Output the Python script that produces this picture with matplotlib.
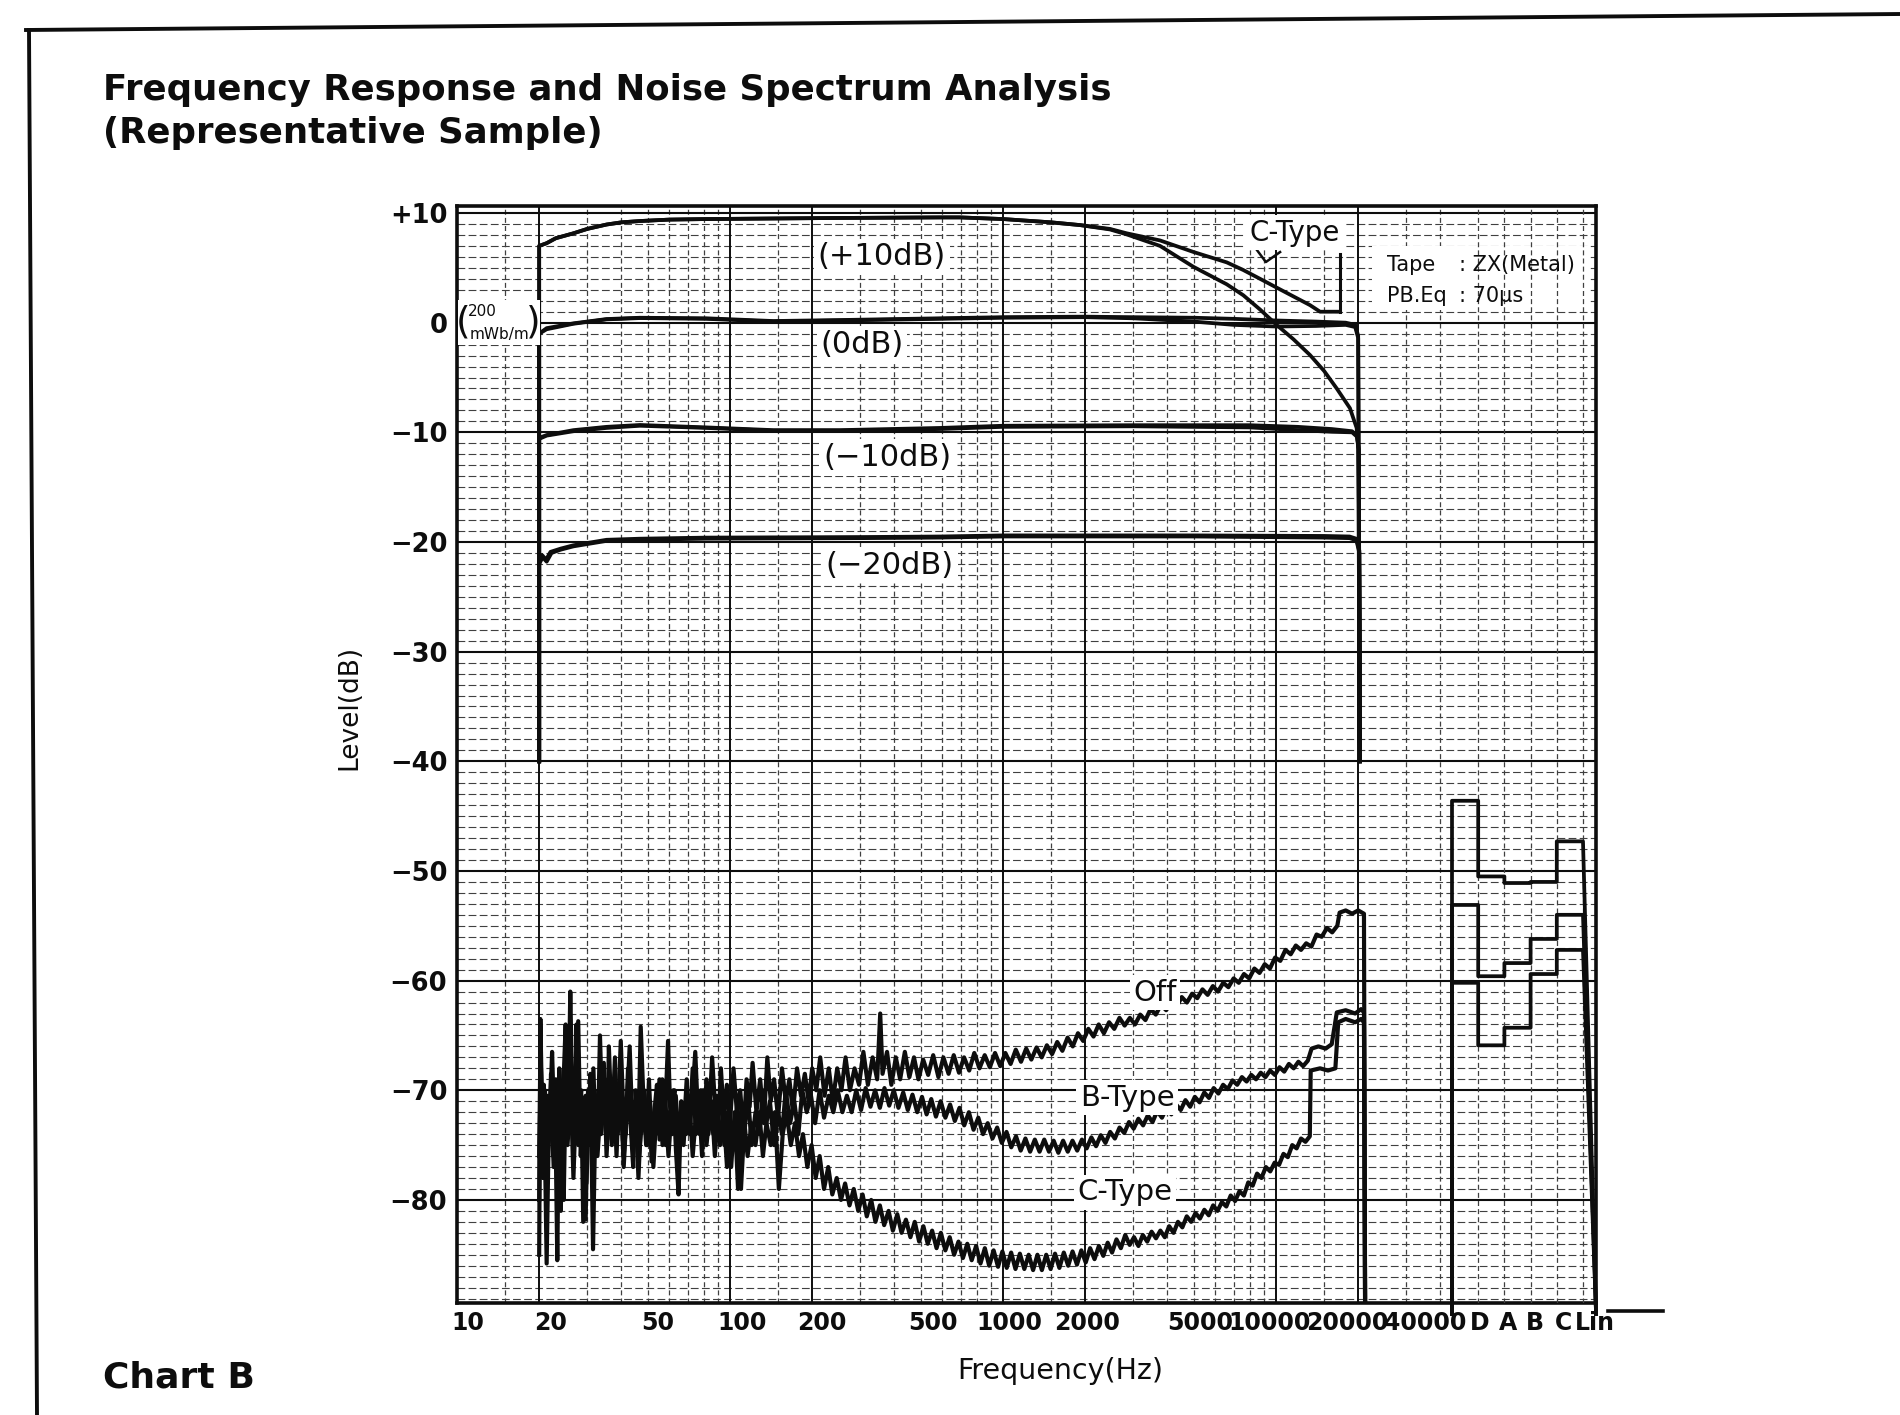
import numpy as np
import matplotlib
matplotlib.use("Agg")
import matplotlib.pyplot as plt
import matplotlib.transforms as mtrans
from matplotlib.lines import Line2D
from matplotlib.patches import Rectangle

plt.rcParams['font.family'] = ['DejaVu Sans']

# ------------------------------------------------------------------ data
freq_ticks = [10, 20, 50, 100, 200, 500, 1000, 2000, 5000, 10000, 20000, 40000]
freq_tick_labels = ["10", "20", "50", "100", "200", "500", "1000", "2000",
                    "5000", "10000", "20000", "40000"]
level_ticks = [10, 0, -10, -20, -30, -40, -50, -60, -70, -80]
level_tick_labels = ["+10", "0", "\u221210", "\u221220", "\u221230", "\u221240",
                     "\u221250", "\u221260", "\u221270", "\u221280"]
weight_labels = ["D", "A", "B", "C", "Lin"]

# frequency response (Hz, dB)
resp_p10_off = [(20, -40), (20, 7.0), (21.3, 7.25), (23, 7.7), (26.7, 8.15), (30, 8.55),
                (35.3, 8.95), (40, 9.15), (46.8, 9.27), (60, 9.4), (82, 9.45), (144, 9.5),
                (253, 9.55), (588, 9.6), (696, 9.6), (1000, 9.45), (1500, 9.15),
                (1914, 8.9), (2466, 8.55), (2838, 8.15), (3760, 7.5), (4980, 6.45),
                (6600, 5.5), (7590, 4.8), (8740, 4.0), (10050, 3.2), (11570, 2.4),
                (13320, 1.6), (14500, 1.0), (17100, 1.0)]
resp_p10_ctype = [(20, -40), (20, 7.0), (21.3, 7.25), (23, 7.7), (26.7, 8.15), (30, 8.55),
                  (35.3, 8.95), (40, 9.15), (46.8, 9.27), (60, 9.4), (82, 9.45), (144, 9.5),
                  (253, 9.55), (588, 9.6), (696, 9.6), (1000, 9.45), (1500, 9.15),
                  (1914, 8.9), (2466, 8.5), (2838, 8.05), (3760, 7.0), (4980, 5.1),
                  (6600, 3.5), (7590, 2.5), (8740, 1.2), (10050, -0.2), (11570, -1.5),
                  (13320, -2.95), (15000, -4.4), (16690, -6.0), (18660, -7.8),
                  (19740, -9.6), (20000, -11.5), (20300, -40)]
resp_0_off = [(20, -40), (20, -1.0), (21.3, -0.5), (26.7, -0.06), (35.3, 0.33), (46.8, 0.45),
              (82, 0.4), (144, 0.15), (253, 0.24), (588, 0.4), (1000, 0.5), (2000, 0.55),
              (3000, 0.5), (5000, 0.45), (7000, 0.35), (10000, 0.2), (14000, 0.1),
              (18000, 0.0), (19500, -0.2), (20000, -1.2), (20300, -40)]
resp_0_ctype = [(20, -40), (20, -1.0), (21.3, -0.6), (26.7, -0.1), (35.3, 0.3), (46.8, 0.42),
                (82, 0.35), (144, 0.1), (253, 0.2), (588, 0.35), (1000, 0.45), (2000, 0.5),
                (3000, 0.4), (5000, 0.1), (7000, -0.2), (10000, -0.35), (14000, -0.3),
                (18000, -0.2), (19500, -0.4), (20000, -1.4), (20300, -40)]
resp_m10_off = [(20, -40), (20, -10.5), (21.3, -10.25), (26.7, -9.8), (35.3, -9.5),
                (46.8, -9.33), (82, -9.55), (144, -9.8), (253, -9.8), (588, -9.6),
                (1000, -9.4), (3000, -9.35), (8000, -9.35), (12000, -9.5), (16000, -9.7),
                (19000, -9.9), (19800, -10.3), (20100, -11.5), (20300, -40)]
resp_m10_ctype = [(20, -40), (20, -10.6), (21.3, -10.3), (26.7, -9.9), (35.3, -9.6),
                  (46.8, -9.4), (82, -9.6), (144, -9.85), (253, -9.85), (588, -9.7),
                  (1000, -9.5), (3000, -9.45), (8000, -9.55), (12000, -9.8), (16000, -9.95),
                  (19000, -10.0), (19800, -10.4), (20100, -11.6), (20300, -40)]
resp_m20_off = [(20, -40), (20, -21.8), (20.5, -21.2), (21.2, -21.6), (22, -20.9),
                (24, -20.6), (26.7, -20.3), (35.3, -19.8), (46.8, -19.7), (82, -19.6),
                (300, -19.55), (588, -19.5), (1000, -19.4), (5000, -19.4), (15000, -19.45),
                (18600, -19.5), (19700, -19.7), (20200, -20.8), (20300, -40)]
resp_m20_ctype = [(20, -40), (20, -22.0), (20.6, -21.4), (21.3, -21.8), (22.2, -21.0),
                  (24, -20.7), (26.7, -20.4), (35.3, -19.9), (46.8, -19.8), (82, -19.7),
                  (300, -19.65), (588, -19.6), (1000, -19.5), (5000, -19.5), (15000, -19.6),
                  (18600, -19.65), (19700, -19.85), (20200, -21.0), (20300, -40)]

# noise spectra (Hz, dB)
noise_off = [(20.0, -85.0), (20.2, -63.5), (20.5, -72.0), (20.8, -69.5), (21.1, -75.5), (21.4, -70.5),
             (21.8, -73.5), (22.1, -68.5), (22.5, -76.0), (22.9, -71.5), (23.3, -85.5), (23.7, -68.0),
             (24.1, -74.0), (24.6, -80.0), (25.1, -67.0), (25.6, -71.5), (26.0, -61.0), (26.5, -72.0),
             (27.0, -74.5), (27.4, -64.0), (27.9, -72.5), (28.5, -70.0), (29.0, -82.0), (29.6, -70.5),
             (30.2, -75.0), (30.8, -68.5), (31.5, -84.5), (32.2, -71.0), (32.8, -74.0), (33.4, -65.0),
             (34.1, -73.0), (34.8, -69.0), (35.5, -74.5), (36.0, -66.0), (36.8, -72.5), (37.6, -69.5),
             (38.4, -76.0), (39.2, -70.0), (39.8, -65.5), (40.6, -71.5), (41.5, -74.0), (42.3, -68.0),
             (43.2, -73.0), (44.2, -77.0), (45.1, -70.0), (46.2, -73.5), (47.1, -64.2), (48.2, -71.0),
             (49.3, -75.0), (50.5, -69.0), (51.6, -76.5), (52.8, -72.0), (54.0, -69.5), (55.2, -74.5),
             (56.5, -69.0), (57.8, -72.5), (59.3, -65.5), (60.6, -73.0), (62.0, -70.0), (63.4, -75.5),
             (64.8, -79.5), (66.3, -71.0), (67.8, -73.5), (69.4, -69.0), (71.0, -74.0), (72.8, -70.5),
             (74.6, -66.5), (76.4, -72.5), (78.2, -70.0), (80.0, -74.5), (82.0, -69.0), (84.0, -72.0),
             (86.0, -67.0), (88.2, -71.5), (90.4, -74.0), (92.6, -68.0), (95.0, -72.5), (97.4, -69.5),
             (100, -73.0), (103, -68.0), (106, -72.0), (109, -70.0), (112, -74.0), (115, -69.0),
             (118, -71.5), (121, -67.5), (125, -72.0), (129, -69.0), (133, -73.0), (137, -67.0),
             (141, -71.0), (145, -69.0), (150, -72.5), (155, -68.0), (160, -71.0), (165, -69.0),
             (170, -72.0), (176, -68.0), (182, -70.5), (188, -68.5), (194, -71.0), (200, -68.0),
             (207, -70.0), (214, -67.0), (222, -70.5), (230, -68.0), (238, -71.0), (247, -68.0),
             (256, -70.0), (265, -67.0), (275, -70.0), (286, -68.0), (297, -69.5), (308, -66.5),
             (320, -69.5), (333, -67.0), (346, -69.0), (355, -63.0), (362, -68.5), (376, -66.5),
             (390, -69.5), (405, -67.0), (420, -69.0), (437, -66.5), (454, -68.8), (472, -67.0),
             (490, -69.0), (510, -67.2), (532, -68.6), (555, -66.8), (580, -68.8), (605, -67.0),
             (632, -68.5), (660, -66.8), (690, -68.4), (720, -67.0), (752, -68.2), (785, -66.6),
             (820, -68.0), (857, -66.8), (895, -67.9), (935, -66.6), (977, -67.8), (1020, -66.6),
             (1066, -67.6), (1114, -66.3), (1164, -67.4), (1216, -66.2), (1270, -67.2), (1327, -66.1),
             (1386, -67.0), (1448, -65.9), (1513, -66.7), (1580, -65.6), (1650, -66.4), (1724, -65.2),
             (1801, -66.0), (1882, -64.8), (1966, -65.5), (2054, -64.4), (2146, -65.1), (2242, -64.0),
             (2342, -64.8), (2447, -63.8), (2556, -64.4), (2671, -63.4), (2790, -64.1), (2915, -63.4),
             (3045, -64.0), (3181, -63.1), (3324, -63.6), (3472, -62.6), (3628, -63.1), (3790, -62.2),
             (3960, -62.7), (4137, -61.8), (4322, -62.4), (4515, -61.5), (4717, -62.0), (4928, -61.2),
             (5148, -61.6), (5379, -60.8), (5619, -61.3), (5871, -60.5), (6133, -61.0), (6408, -60.2),
             (6694, -60.6), (6994, -59.8), (7306, -60.2), (7633, -59.4), (7975, -59.8), (8331, -58.9),
             (8704, -59.3), (9093, -58.5), (9500, -58.9), (9925, -57.9), (10370, -58.2), (10830, -57.2),
             (11320, -57.6), (11820, -56.8), (12350, -57.2), (12900, -56.6), (13480, -56.9),
             (14080, -55.8), (14710, -56.0), (15370, -55.2), (16060, -55.6), (16770, -55.0),
             (17100, -53.8), (18000, -53.6), (19000, -53.9), (20000, -53.6), (21000, -53.9),
             (21200, -89.5)]

noise_btype = [(20.0, -76.0), (20.3, -68.0), (20.6, -78.0), (20.9, -72.0), (21.3, -85.8), (21.7, -73.0),
               (22.1, -70.0), (22.6, -77.0), (23.0, -69.0), (23.5, -74.0), (24.0, -81.0), (24.5, -70.0),
               (25.0, -64.0), (25.5, -73.0), (26.1, -70.0), (26.7, -78.0), (27.2, -72.0), (27.8, -63.7),
               (28.4, -76.0), (29.0, -71.0), (29.6, -81.8), (30.2, -70.0), (30.9, -74.0), (31.6, -68.0),
               (32.3, -76.0), (33.0, -70.0), (33.7, -74.0), (34.5, -67.5), (35.3, -76.0), (36.1, -71.0),
               (37.0, -73.0), (37.9, -67.0), (38.8, -74.0), (39.8, -70.0), (40.8, -77.0), (41.8, -72.0),
               (42.9, -66.0), (44.0, -74.0), (45.0, -71.0), (46.2, -78.0), (47.3, -72.0), (48.5, -70.0),
               (49.7, -75.0), (51.0, -71.0), (52.4, -77.0), (53.8, -72.0), (55.2, -69.0), (56.6, -75.0),
               (58.0, -71.0), (59.5, -76.0), (61.0, -72.0), (62.6, -70.0), (64.2, -76.0), (65.9, -72.0),
               (67.6, -75.0), (69.4, -70.0), (71.2, -73.0), (73.0, -68.0), (75.0, -74.0), (77.0, -71.0),
               (79.0, -76.0), (81.2, -70.0), (83.4, -74.0), (85.6, -71.0), (88.0, -76.0), (90.4, -72.0),
               (92.8, -70.0), (95.3, -75.0), (98.0, -72.0), (101, -77.0), (104, -72.0), (107, -79.0),
               (110, -72.0), (113, -74.0), (116, -70.0), (120, -75.0), (124, -72.0), (128, -74.0),
               (132, -70.0), (136, -73.0), (140, -71.0), (145, -75.0), (150, -72.0), (155, -74.0),
               (160, -70.0), (166, -73.0), (172, -71.0), (178, -74.0), (184, -70.0), (191, -72.0),
               (198, -70.5), (205, -73.0), (213, -70.0), (221, -72.5), (230, -70.5), (239, -72.0),
               (248, -70.0), (258, -72.0), (268, -70.5), (279, -72.0), (290, -70.0), (302, -71.8),
               (314, -69.8), (327, -71.5), (340, -70.0), (354, -71.6), (368, -69.8), (383, -71.4),
               (398, -70.0), (414, -71.6), (431, -70.2), (448, -71.8), (466, -70.4), (485, -72.0),
               (505, -70.6), (525, -72.2), (546, -70.8), (568, -72.4), (591, -71.0), (615, -72.5),
               (640, -71.3), (666, -72.8), (693, -71.6), (721, -73.2), (750, -72.0), (780, -73.6),
               (812, -72.5), (845, -74.0), (879, -73.0), (915, -74.4), (952, -73.4), (990, -74.8),
               (1030, -73.8), (1072, -75.2), (1116, -74.2), (1161, -75.5), (1208, -74.4), (1257, -75.6),
               (1308, -74.5), (1361, -75.6), (1416, -74.5), (1474, -75.6), (1533, -74.6), (1595, -75.7),
               (1660, -74.6), (1727, -75.6), (1797, -74.6), (1870, -75.5), (1946, -74.5), (2025, -75.3),
               (2107, -74.3), (2192, -75.1), (2281, -74.1), (2373, -74.8), (2469, -73.8), (2569, -74.4),
               (2673, -73.4), (2781, -73.9), (2894, -72.9), (3011, -73.5), (3133, -72.6), (3260, -73.2),
               (3392, -72.3), (3529, -72.9), (3672, -71.9), (3821, -72.5), (3975, -71.6), (4136, -72.2),
               (4304, -71.3), (4478, -71.8), (4659, -70.9), (4848, -71.5), (5044, -70.6), (5249, -71.1),
               (5461, -70.2), (5682, -70.7), (5912, -69.8), (6151, -70.3), (6400, -69.5), (6659, -69.9),
               (6929, -69.1), (7209, -69.5), (7501, -68.8), (7804, -69.2), (8120, -68.6), (8449, -69.0),
               (8791, -68.4), (9147, -68.8), (9517, -68.2), (9902, -68.6), (10300, -67.9), (10720, -68.3),
               (11150, -67.6), (11610, -68.0), (12080, -67.4), (12570, -67.8), (13080, -67.3),
               (13500, -66.2), (14300, -66.0), (15200, -66.2), (16000, -65.8), (16700, -62.9),
               (18000, -62.7), (19500, -63.0), (20500, -62.6), (21000, -62.9), (21200, -89.5)]

noise_ctype = [(20.0, -80.0), (20.2, -66.0), (20.6, -74.5), (21.0, -70.0), (21.4, -77.5), (21.9, -72.0),
               (22.3, -66.5), (22.8, -74.5), (23.3, -70.5), (23.8, -78.0), (24.3, -72.0), (24.8, -69.0),
               (25.4, -75.0), (26.0, -71.0), (26.6, -74.0), (27.2, -68.5), (27.8, -75.0), (28.4, -71.0),
               (29.1, -73.5), (29.8, -78.5), (30.5, -71.0), (31.2, -74.0), (31.9, -70.0), (32.7, -76.0),
               (33.5, -72.0), (34.3, -70.0), (35.1, -74.0), (36.0, -71.0), (36.9, -75.0), (37.8, -69.0),
               (38.8, -73.0), (39.8, -71.0), (40.8, -76.0), (41.9, -72.0), (43.0, -70.0), (44.1, -74.0),
               (45.3, -71.0), (46.5, -76.0), (47.8, -72.0), (49.1, -74.0), (50.5, -70.0), (51.9, -75.0),
               (53.4, -72.0), (54.9, -74.0), (56.5, -70.0), (58.1, -75.0), (59.8, -72.0), (61.5, -74.0),
               (63.3, -70.5), (65.1, -75.0), (67.0, -72.0), (69.0, -74.0), (71.0, -71.0), (73.0, -76.0),
               (75.2, -72.0), (77.4, -74.0), (79.7, -70.0), (82.0, -75.0), (84.4, -72.0), (86.9, -74.0),
               (89.4, -70.5), (92.0, -75.0), (94.7, -72.0), (97.5, -77.0), (100.4, -73.0), (103.4, -75.0),
               (106.5, -71.0), (109.7, -79.0), (113, -73.0), (116, -76.0), (120, -73.0), (124, -75.0),
               (128, -72.0), (132, -76.0), (136, -73.0), (141, -75.0), (146, -72.0), (151, -79.0),
               (156, -74.0), (161, -72.0), (167, -75.0), (173, -73.0), (179, -76.0), (185, -74.0),
               (192, -77.0), (199, -75.0), (206, -78.0), (213, -76.0), (221, -79.0), (229, -77.0),
               (237, -79.5), (246, -78.0), (255, -80.0), (264, -78.5), (274, -80.5), (284, -79.0),
               (295, -81.0), (306, -79.5), (317, -81.5), (329, -80.0), (341, -82.0), (354, -80.5),
               (367, -82.3), (381, -81.0), (395, -82.8), (410, -81.3), (425, -83.0), (441, -81.8),
               (458, -83.4), (475, -82.0), (493, -83.8), (511, -82.4), (530, -84.0), (550, -82.8),
               (571, -84.4), (592, -83.0), (615, -84.6), (638, -83.4), (662, -85.0), (687, -83.8),
               (713, -85.3), (740, -84.0), (768, -85.5), (797, -84.2), (827, -85.8), (858, -84.4),
               (890, -86.0), (924, -84.6), (959, -86.1), (995, -84.7), (1032, -86.2), (1071, -84.8),
               (1111, -86.3), (1153, -84.9), (1197, -86.3), (1242, -85.0), (1289, -86.4), (1337, -85.0),
               (1388, -86.4), (1440, -85.0), (1494, -86.3), (1551, -84.9), (1609, -86.2), (1670, -84.8),
               (1733, -86.0), (1798, -84.7), (1866, -85.9), (1936, -84.6), (2009, -85.7), (2085, -84.4),
               (2164, -85.4), (2245, -84.2), (2330, -85.1), (2418, -83.9), (2509, -84.8), (2604, -83.6),
               (2702, -84.4), (2804, -83.2), (2910, -84.1), (3020, -83.4), (3134, -84.2), (3252, -83.2),
               (3375, -83.8), (3502, -82.9), (3634, -83.5), (3771, -82.8), (3914, -83.4), (4062, -82.4),
               (4215, -83.0), (4374, -82.0), (4539, -82.5), (4711, -81.5), (4889, -82.0), (5073, -81.2),
               (5265, -81.7), (5464, -80.9), (5670, -81.4), (5884, -80.5), (6106, -81.0), (6337, -80.2),
               (6576, -80.6), (6824, -79.6), (7082, -80.1), (7350, -79.2), (7627, -79.6), (7915, -78.4),
               (8214, -78.7), (8524, -77.6), (8846, -78.0), (9180, -77.0), (9527, -77.4), (9887, -76.6),
               (10260, -76.8), (10650, -75.8), (11050, -76.1), (11470, -75.0), (11900, -75.3),
               (12350, -74.4), (12820, -74.7), (13300, -74.2), (13400, -68.2), (14500, -68.0),
               (15500, -68.2), (16500, -68.0), (16900, -63.8), (18000, -63.5), (19500, -63.8),
               (20500, -63.5), (21000, -63.8), (21200, -89.5)]

# weighted noise levels (D, A, B, C, Lin), dB
weighted_off = [-43.6, -50.5, -51.1, -51.0, -47.3]
weighted_btype = [-53.1, -59.6, -58.4, -56.2, -54.0]
weighted_ctype = [-60.2, -65.9, -64.3, -59.4, -57.2]

# ------------------------------------------------------------------ layout helpers
W, H = 1900, 1415
def fx(px):
    return px / W
def fy(py):
    return 1 - py / H

INK = '#0d0d0d'
YMIN, YMAX = -89.4, 10.64
X_LEFT, X_RIGHT_PX, PX_PER_DEC = 457, 1596, 273.0

fig = plt.figure(figsize=(19, 14.15), dpi=100)
fig.patch.set_facecolor('white')

ax = fig.add_axes([fx(457), fy(1303), fx(1596) - fx(457), fy(206) - fy(1303)])
ax.set_xscale('log')
ax.set_xlim(10, 10 ** (1 + (X_RIGHT_PX - X_LEFT) / PX_PER_DEC))
ax.set_ylim(YMIN, YMAX)

# recorder-paper grid
for db in range(-89, 11):
    if db % 10 == 0:
        ax.axhline(db, color=INK, lw=1.5, zorder=0.6)
    else:
        ax.axhline(db, color='0.25', lw=0.8, ls=(0, (7, 3)), zorder=0.5)
grid_f = [m * 10 ** k for k in range(1, 5) for m in (1, 1.5, 2, 3, 4, 5, 6, 7, 8, 9)
          if m * 10 ** k <= 40000]
for f in grid_f:
    strong = f in (10, 100, 1000, 10000, 20, 200, 2000, 20000)
    ax.axvline(f, color=INK if strong else '0.25', lw=1.4 if strong else 0.9,
               ls='-' if strong else (0, (4, 2.5)), zorder=0.5)

# response curves
for curve in (resp_p10_off, resp_p10_ctype, resp_0_off, resp_0_ctype,
              resp_m10_off, resp_m10_ctype, resp_m20_off, resp_m20_ctype):
    f, lv = zip(*curve)
    ax.plot(f, lv, color=INK, lw=2.7, zorder=3, solid_joinstyle='round')

# noise curves
for curve in (noise_off, noise_btype, noise_ctype):
    f, lv = zip(*curve)
    ax.plot(f, lv, color=INK, lw=3.0, zorder=3, solid_joinstyle='round')

# leader of top "C-Type" label
ax.plot([17100, 17100], [1.0, 6.3], color=INK, lw=2.2, zorder=3)
ax.plot([8510, 9180, 10350], [6.63, 5.53, 6.44], color=INK, lw=1.8, zorder=3)

# ticks
ax.set_xticks(freq_ticks)
ax.set_xticklabels(freq_tick_labels)
ax.xaxis.set_minor_locator(matplotlib.ticker.NullLocator())
ax.set_yticks(level_ticks)
ax.set_yticklabels(level_tick_labels)
ax.tick_params(axis='x', length=0, pad=6, labelsize=17)
ax.tick_params(axis='y', length=0, pad=7, labelsize=18.5)
for lab in ax.get_xticklabels() + ax.get_yticklabels():
    lab.set_fontweight('bold')
    lab.set_color(INK)
label_nudge_px = [11, 11, 10, 12, 10, 12, 6, 2, 6, -6, -11, -15]
for lab, dx in zip(ax.get_xticklabels(), label_nudge_px):
    lab.set_transform(lab.get_transform()
                      + mtrans.ScaledTranslation(dx / 100, 0, fig.dpi_scale_trans))
for s in ax.spines.values():
    s.set_linewidth(2.6)
    s.set_color(INK)

# curve labels
lbl = dict(color=INK, ha='center', va='center', zorder=6,
           bbox=dict(boxstyle='square,pad=0.12', fc='white', ec='none'))
ax.text(360, 6.0, "(+10dB)", fontsize=22, **lbl)
ax.text(304, -1.95, "(0dB)", fontsize=22, **lbl)
ax.text(376, -12.3, "(\u221210dB)", fontsize=22, **lbl)
ax.text(385, -22.1, "(\u221220dB)", fontsize=22, **lbl)
ax.text(11740, 8.2, "C-Type", fontsize=20, **lbl)
ax.text(3606, -61.1, "Off", fontsize=21, **lbl)
ax.text(2845, -70.7, "B-Type", fontsize=21, **lbl)
ax.text(2800, -79.3, "C-Type", fontsize=21, **lbl)

# 0 dB reference note
ax.add_patch(Rectangle((fx(458), fy(345)), fx(540) - fx(458), fy(300) - fy(345),
                       transform=fig.transFigure, fc='white', ec='none', zorder=4))
fig.text(fx(463), fy(322), "(", fontsize=27, ha='center', va='center', color=INK, zorder=7)
fig.text(fx(533), fy(322), ")", fontsize=27, ha='center', va='center', color=INK, zorder=7)
fig.text(fx(482), fy(311), "200", fontsize=11, ha='center', va='center', color=INK, zorder=7)
fig.text(fx(499), fy(334), "mWb/m", fontsize=11, ha='center', va='center', color=INK, zorder=7)

# tape box
ax.add_patch(Rectangle((fx(1372), fy(310)), fx(1589) - fx(1372), fy(246) - fy(310),
                       transform=fig.transFigure, fc='white', ec='none', zorder=4))
for txt, x, y in (("Tape", 1387, 265), (": ZX(Metal)", 1459, 265),
                  ("PB.Eq", 1387, 296), (": 70\u03bcs", 1459, 296)):
    fig.text(fx(x), fy(y), txt, fontsize=15, ha='left', va='center', color=INK, zorder=7)

# weighted levels panel
axw = fig.add_axes([fx(1452), fy(1303), (146.7) / W, fy(206) - fy(1303)])
axw.set_xlim(0, 5.6)
axw.set_ylim(YMIN, YMAX)
axw.patch.set_alpha(0)
for s in axw.spines.values():
    s.set_visible(False)
axw.set_yticks([])
for k in range(1, len(weight_labels) + 1):
    axw.axvline(k, color='0.25', lw=0.9, ls=(0, (4, 2.5)), zorder=0.5)
for vals in (weighted_off, weighted_btype, weighted_ctype):
    xs, ys = [0], [YMIN - 1]
    for i, v in enumerate(vals):
        xs += [i, i + 1]
        ys += [v, v]
    xs += [len(vals) + 0.5]
    ys += [YMIN - 1]
    axw.plot(xs, ys, color=INK, lw=2.7, zorder=3, clip_on=False)
axw.set_xticks([1.07, 2.14, 3.17, 4.24, 5.46])
axw.set_xticklabels(weight_labels)
axw.tick_params(axis='x', length=0, pad=6, labelsize=17)
for lab in axw.get_xticklabels():
    lab.set_fontweight('bold')
    lab.set_color(INK)

# axis titles
fig.text(fx(349), fy(707), "Level(dB)", rotation=90, fontsize=19, ha='center', va='center', color=INK)
fig.text(fx(1060), fy(1371), "Frequency(Hz)", fontsize=20.5, ha='center', va='center', color=INK)

# headings
fig.text(fx(103), fy(100), "Frequency Response and Noise Spectrum Analysis",
         fontsize=25.6, fontweight='bold', va='baseline', ha='left', color=INK)
fig.text(fx(103), fy(143), "(Representative Sample)",
         fontsize=25.6, fontweight='bold', va='baseline', ha='left', color=INK)
fig.text(fx(103), fy(1388), "Chart B", fontsize=26, fontweight='bold',
         va='baseline', ha='left', color=INK)

# page border and pen trail
fig.add_artist(Line2D([fx(26), fx(1900)], [fy(30), fy(14)], color=INK, lw=2.8))
fig.add_artist(Line2D([fx(29), fx(37)], [fy(30), fy(1415)], color=INK, lw=2.8))
fig.add_artist(Line2D([fx(1608), fx(1663)], [fy(1311), fy(1311)], color=INK, lw=2.6))

fig.savefig("out.png", dpi=100, facecolor='white')
